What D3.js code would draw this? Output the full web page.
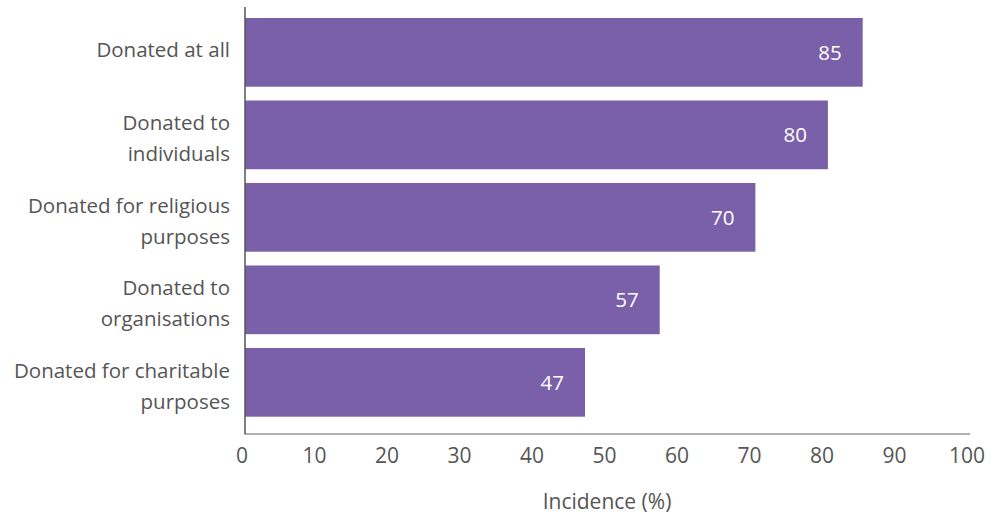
<!DOCTYPE html>
<html><head><meta charset="utf-8">
<script src="https://cdn.jsdelivr.net/npm/d3@7"></script>
<style>body{margin:0;background:#fff}svg{display:block}</style>
</head><body><svg id="c" width="1002" height="517"></svg>
<script>
const categories = [["Donated at all"],["Donated to","individuals"],["Donated for religious","purposes"],["Donated to","organisations"],["Donated for charitable","purposes"]];
const values = [85.2, 80.4, 70.4, 57.2, 46.9];
const labels = ["85","80","70","57","47"];
const xTicks = [0,10,20,30,40,50,60,70,80,90,100];
const xTitle = "Incidence (%)";

const svg = d3.select("#c");
const font = "'Open Sans', sans-serif";
const x = d3.scaleLinear().domain([0,100]).range([245,970]);
const y = d3.scaleBand().domain(d3.range(categories.length)).range([18,416.7]).paddingInner(0.167).paddingOuter(0);

svg.selectAll("rect.bar").data(values).join("rect")
  .attr("x", x(0)).attr("y",(d,i)=>y(i)).attr("width",d=>x(d)-x(0)).attr("height",y.bandwidth())
  .attr("fill","#7a60a8");

svg.selectAll("text.val").data(values).join("text")
  .attr("x",d=>x(d)-21).attr("y",(d,i)=>y(i)+y.bandwidth()/2)
  .attr("dy","0.35em").attr("text-anchor","end").attr("fill","#fff")
  .style("font-family",font).style("font-size","20.5px").text((d,i)=>labels[i]);

// axes lines
svg.append("line").attr("x1",x(0)).attr("x2",x(0)).attr("y1",7).attr("y2",434.5).attr("stroke","#555").attr("stroke-width",1.5);
svg.append("line").attr("x1",x(0)).attr("x2",x(100)).attr("y1",434).attr("y2",434).attr("stroke","#666").attr("stroke-width",1.2);

svg.selectAll("text.xt").data(xTicks).join("text")
  .attr("x",d=>x(d)-3).attr("y",463).attr("text-anchor","middle").attr("fill","#555")
  .style("font-family",font).style("font-size","21px").text(d=>d);

svg.append("text").attr("x",607).attr("y",509).attr("text-anchor","middle").attr("fill","#555")
  .style("font-family",font).style("font-size","21px").text(xTitle);

categories.forEach((lines,i)=>{
  const cy = y(i)+y.bandwidth()/2 + (lines.length > 1 ? 3.5 : -3);
  const lh = 31;
  const t = svg.append("text").attr("text-anchor","end").attr("fill","#555")
    .style("font-family",font).style("font-size","20.5px");
  lines.forEach((l,j)=>{
    t.append("tspan").attr("x",230).attr("y",cy + (j-(lines.length-1)/2)*lh).attr("dy","0.35em").text(l);
  });
});
</script></body></html>
